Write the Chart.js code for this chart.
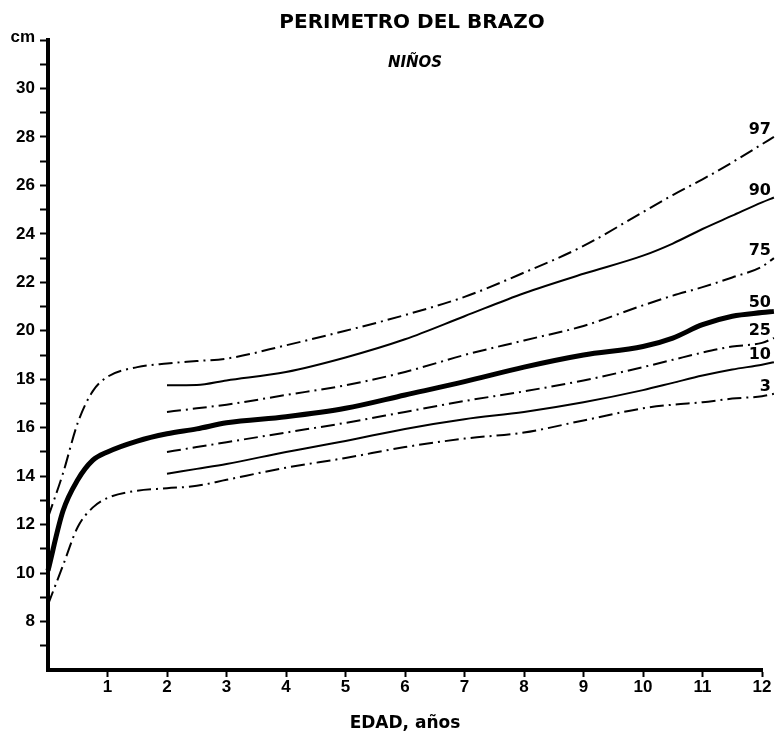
<!DOCTYPE html>
<html>
<head>
<meta charset="utf-8">
<script src="https://cdn.jsdelivr.net/npm/chart.js@4.4.1/dist/chart.umd.min.js"></script>
<style>
  html, body { margin: 0; padding: 0; background: #fff; }
  #wrap { width: 783px; height: 736px; position: relative; }
</style>
</head>
<body>
<div id="wrap"><canvas id="c"></canvas></div>
<script>
// ---- data ----
const ages = [0, 0.25, 0.5, 0.75, 1, 1.5, 2, 2.5, 3, 4, 5, 6, 7, 8, 9, 10, 10.5, 11, 11.5, 12, 12.2];
const p97 = [12.3, 14.1, 16.2, 17.5, 18.1, 18.5, 18.65, 18.75, 18.85, 19.4, 20.0, 20.65, 21.4, 22.4, 23.5, 24.9, 25.6, 26.25, 26.95, 27.7, 28.0];
const p90 = [null, null, null, null, null, null, 17.75, 17.76, 17.95, 18.3, 18.9, 19.65, 20.6, 21.55, 22.35, 23.1, 23.6, 24.2, 24.75, 25.3, 25.5];
const p75 = [null, null, null, null, null, null, 16.65, 16.8, 16.95, 17.35, 17.75, 18.3, 19.0, 19.6, 20.2, 21.05, 21.45, 21.8, 22.2, 22.65, 23.0];
const p50 = [10.1, 12.55, 13.85, 14.65, 15.0, 15.45, 15.75, 15.95, 16.2, 16.45, 16.8, 17.35, 17.9, 18.5, 19.0, 19.35, 19.7, 20.25, 20.6, 20.75, 20.8];
const p25 = [null, null, null, null, null, null, 15.0, 15.2, 15.4, 15.8, 16.2, 16.65, 17.1, 17.5, 17.95, 18.5, 18.8, 19.1, 19.35, 19.5, 19.7];
const p10 = [null, null, null, null, null, null, 14.1, 14.3, 14.5, 15.0, 15.45, 15.95, 16.35, 16.65, 17.05, 17.55, 17.85, 18.15, 18.4, 18.6, 18.7];
const p3  = [8.7, 10.3, 11.9, 12.7, 13.1, 13.4, 13.5, 13.6, 13.85, 14.35, 14.75, 15.2, 15.55, 15.8, 16.3, 16.8, 16.95, 17.05, 17.2, 17.3, 17.4];
const percentileLabels = ['97', '90', '75', '50', '25', '10', '3'];
const xTickValues = [1, 2, 3, 4, 5, 6, 7, 8, 9, 10, 11, 12];
const yTickValues = [8, 10, 12, 14, 16, 18, 20, 22, 24, 26, 28, 30];

const titleText = 'PERIMETRO DEL BRAZO';
const subtitleText = 'NIÑOS';
const xAxisTitle = 'EDAD, años';
const yAxisUnit = 'cm';

// ---- build datasets ----
function pairs(vals) {
  const out = [];
  for (let i = 0; i < ages.length; i++) {
    if (vals[i] !== null) out.push({ x: ages[i], y: vals[i] });
  }
  return out;
}
const DASHDOT = [14, 5, 2, 5];
const series = [p97, p90, p75, p50, p25, p10, p3];
const styles = [
  { w: 2, dash: DASHDOT },
  { w: 2, dash: [] },
  { w: 2, dash: DASHDOT },
  { w: 5, dash: [] },
  { w: 2, dash: DASHDOT },
  { w: 2, dash: [] },
  { w: 2, dash: DASHDOT }
];
const datasets = series.map((vals, i) => ({
  label: percentileLabels[i],
  data: pairs(vals),
  borderColor: '#000',
  backgroundColor: '#000',
  borderWidth: styles[i].w,
  borderDash: styles[i].dash,
  pointRadius: 0,
  fill: false,
  cubicInterpolationMode: 'monotone',
  clip: false
}));

// ---- text plugin ----
const textPlugin = {
  id: 'texts',
  afterDraw(chart) {
    const ctx = chart.ctx;
    const xs = chart.scales.x, ys = chart.scales.y;
    ctx.save();
    ctx.fillStyle = '#000';
    // title
    ctx.textAlign = 'center';
    ctx.textBaseline = 'alphabetic';
    ctx.font = 'bold 20px "DejaVu Sans"';
    ctx.fillText(titleText, 412, 28);
    ctx.font = 'italic bold 15px "DejaVu Sans"';
    ctx.fillText(subtitleText, 415, 67);
    // x axis title
    ctx.font = 'bold 17px "DejaVu Sans"';
    ctx.fillText(xAxisTitle, (chart.chartArea.left + chart.chartArea.right) / 2, 728);
    // unit label at top of y axis
    ctx.textAlign = 'right';
    ctx.font = 'bold 17px "Liberation Sans"';
    ctx.fillText(yAxisUnit, 35, ys.getPixelForValue(ys.max) + 2);
    // percentile labels at line ends
    ctx.font = 'bold 16px "DejaVu Sans"';
    chart.data.datasets.forEach((ds) => {
      const last = ds.data[ds.data.length - 1];
      const px = xs.getPixelForValue(last.x);
      const py = ys.getPixelForValue(last.y);
      ctx.textAlign = 'right';
      ctx.fillText(ds.label, px - 3, py - 2 - ds.borderWidth / 2);
    });
    ctx.restore();
  }
};

new Chart(document.getElementById('c'), {
  type: 'line',
  data: { datasets },
  plugins: [textPlugin],
  options: {
    responsive: true,
    maintainAspectRatio: false,
    devicePixelRatio: 1,
    animation: false,
    layout: { padding: { top: 40, right: 21, left: 0, bottom: 0 } },
    plugins: { legend: { display: false }, tooltip: { enabled: false }, title: { display: false } },
    scales: {
      x: {
        type: 'linear',
        bounds: 'data',
        min: 0,
        afterDataLimits(scale) { scale.max = 12; },
        afterFit(scale) { scale.height = 66; },
        afterBuildTicks(scale) { scale.ticks = [0].concat(xTickValues).map(v => ({ value: v })); },
        ticks: {
          stepSize: 1,
          autoSkip: false,
          maxRotation: 0,
          padding: 0,
          color: '#000',
          font: { family: 'Liberation Sans', weight: 'bold', size: 17 },
          callback: (v) => (xTickValues.includes(v) ? String(v) : '')
        },
        grid: {
          display: true,
          drawOnChartArea: false,
          drawTicks: true,
          tickLength: 7,
          tickWidth: 2,
          color: (c) => (c.tick && c.tick.value === 0 ? 'rgba(0,0,0,0)' : '#000')
        },
        border: { display: true, color: '#000', width: 4 }
      },
      y: {
        type: 'linear',
        min: 6, max: 32,
        afterFit(scale) { scale.width = 48; },
        ticks: {
          stepSize: 1,
          autoSkip: false,
          padding: 5,
          color: '#000',
          font: { family: 'Liberation Sans', weight: 'bold', size: 17 },
          callback: (v) => (yTickValues.includes(v) ? String(v) : '')
        },
        grid: {
          display: true,
          drawOnChartArea: false,
          drawTicks: true,
          tickLength: 8,
          tickWidth: 2,
          color: (c) => (c.tick && c.tick.value === 6 ? 'rgba(0,0,0,0)' : '#000')
        },
        border: { display: true, color: '#000', width: 4 }
      }
    }
  }
});
</script>
</body>
</html>
